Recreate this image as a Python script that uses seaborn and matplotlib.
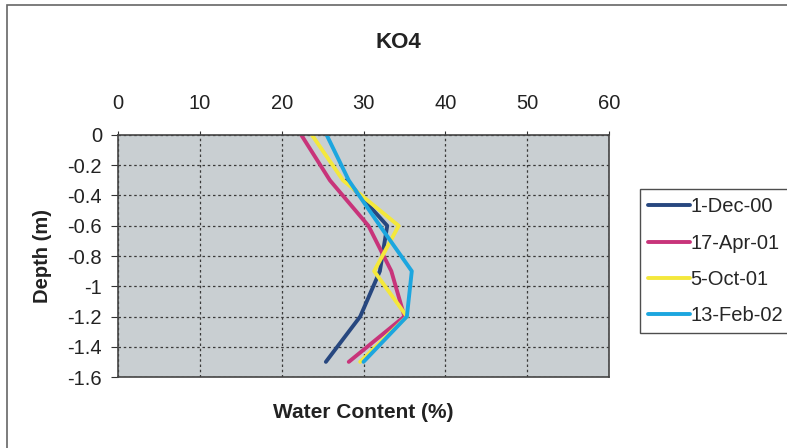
import matplotlib
matplotlib.use("Agg")
import matplotlib.pyplot as plt
import seaborn as sns
import pandas as pd
from matplotlib.patches import Rectangle

# ---- data ----
dates = ["1-Dec-00", "17-Apr-01", "5-Oct-01", "13-Feb-02"]
depth_dec00 = [-0.3, -0.6, -0.9, -1.2, -1.5]
wc_dec00 = [27.9, 32.9, 32.0, 29.6, 25.4]
depth_apr01 = [0.0, -0.3, -0.6, -0.9, -1.2, -1.5]
wc_apr01 = [22.4, 25.9, 30.6, 33.4, 35.0, 28.2]
depth_oct01 = [0.0, -0.3, -0.6, -0.9, -1.2, -1.5]
wc_oct01 = [23.7, 27.5, 34.3, 31.3, 35.3, 29.6]
depth_feb02 = [0.0, -0.3, -0.6, -0.9, -1.2, -1.5]
wc_feb02 = [25.5, 28.2, 32.0, 35.9, 35.3, 30.0]
colors = ["#27477f", "#c8347a", "#f4e83c", "#1ca6df"]
x_ticks = [0, 10, 20, 30, 40, 50, 60]
y_ticks = [0, -0.2, -0.4, -0.6, -0.8, -1.0, -1.2, -1.4, -1.6]
y_ticklabels = ["0", "-0.2", "-0.4", "-0.6", "-0.8", "-1", "-1.2", "-1.4", "-1.6"]

frames = []
for d, dep, wc in zip(dates,
                      [depth_dec00, depth_apr01, depth_oct01, depth_feb02],
                      [wc_dec00, wc_apr01, wc_oct01, wc_feb02]):
    frames.append(pd.DataFrame({"date": d, "depth": dep, "wc": wc}))
df = pd.concat(frames, ignore_index=True)

sns.set_style("white")
plt.rcParams["font.family"] = ["Liberation Sans", "DejaVu Sans"]

fig = plt.figure(figsize=(7.87, 4.48), dpi=100)
ax = fig.add_axes([118 / 787, 1 - 377 / 448, (609 - 118) / 787, (377 - 135) / 448])

sns.lineplot(data=df, x="wc", y="depth", hue="date", hue_order=dates,
             palette=dict(zip(dates, colors)), sort=False, estimator=None,
             linewidth=2.8, ax=ax, legend=True)

ax.set_facecolor("#c9cfd2")
ax.set_xlim(0, 60)
ax.set_ylim(-1.6, 0)
ax.set_xticks(x_ticks)
ax.set_yticks(y_ticks)
ax.set_yticklabels(y_ticklabels)
ax.xaxis.tick_top()
ax.xaxis.set_label_position("bottom")
ax.tick_params(axis="x", which="both", top=True, bottom=False, length=3,
               labelsize=14.5, pad=12.5, color="#333333", labelcolor="#222222")
ax.tick_params(axis="y", left=True, length=5, labelsize=14.5, pad=6.5,
               color="#333333", labelcolor="#222222")
ax.grid(True, color="#3a3a3a", linestyle=(0, (2, 2.2)), linewidth=0.9)
for s in ax.spines.values():
    s.set_color("#444444")
    s.set_linewidth(1.2)

ax.set_xlabel("Water Content (%)", fontsize=15, fontweight="bold",
              labelpad=19, color="#222222")
ax.set_ylabel("Depth (m)", fontsize=14.5, fontweight="bold", labelpad=11,
              color="#222222")

fig.text(398 / 787, 1 - 42 / 448, "KO4", ha="center", va="center",
         fontsize=16, fontweight="bold", color="#222222")

leg = ax.legend(loc="upper left", bbox_to_anchor=(640 / 787, 1 - 189 / 448),
                bbox_transform=fig.transFigure, frameon=True, fancybox=False,
                fontsize=14.5, handlelength=2.05, handletextpad=0.02,
                labelspacing=0.85, borderpad=0.42, borderaxespad=0)
leg.get_frame().set_edgecolor("#222222")
leg.get_frame().set_linewidth(1.0)
for line in leg.get_lines():
    line.set_linewidth(2.8)

# outer chart border
fig.patches.append(Rectangle((7 / 787, -0.02), 1.0, 1 - 5 / 448 + 0.02,
                             transform=fig.transFigure, fill=False,
                             edgecolor="#666666", linewidth=1.2))

fig.savefig("out.png", dpi=100, facecolor="white")
